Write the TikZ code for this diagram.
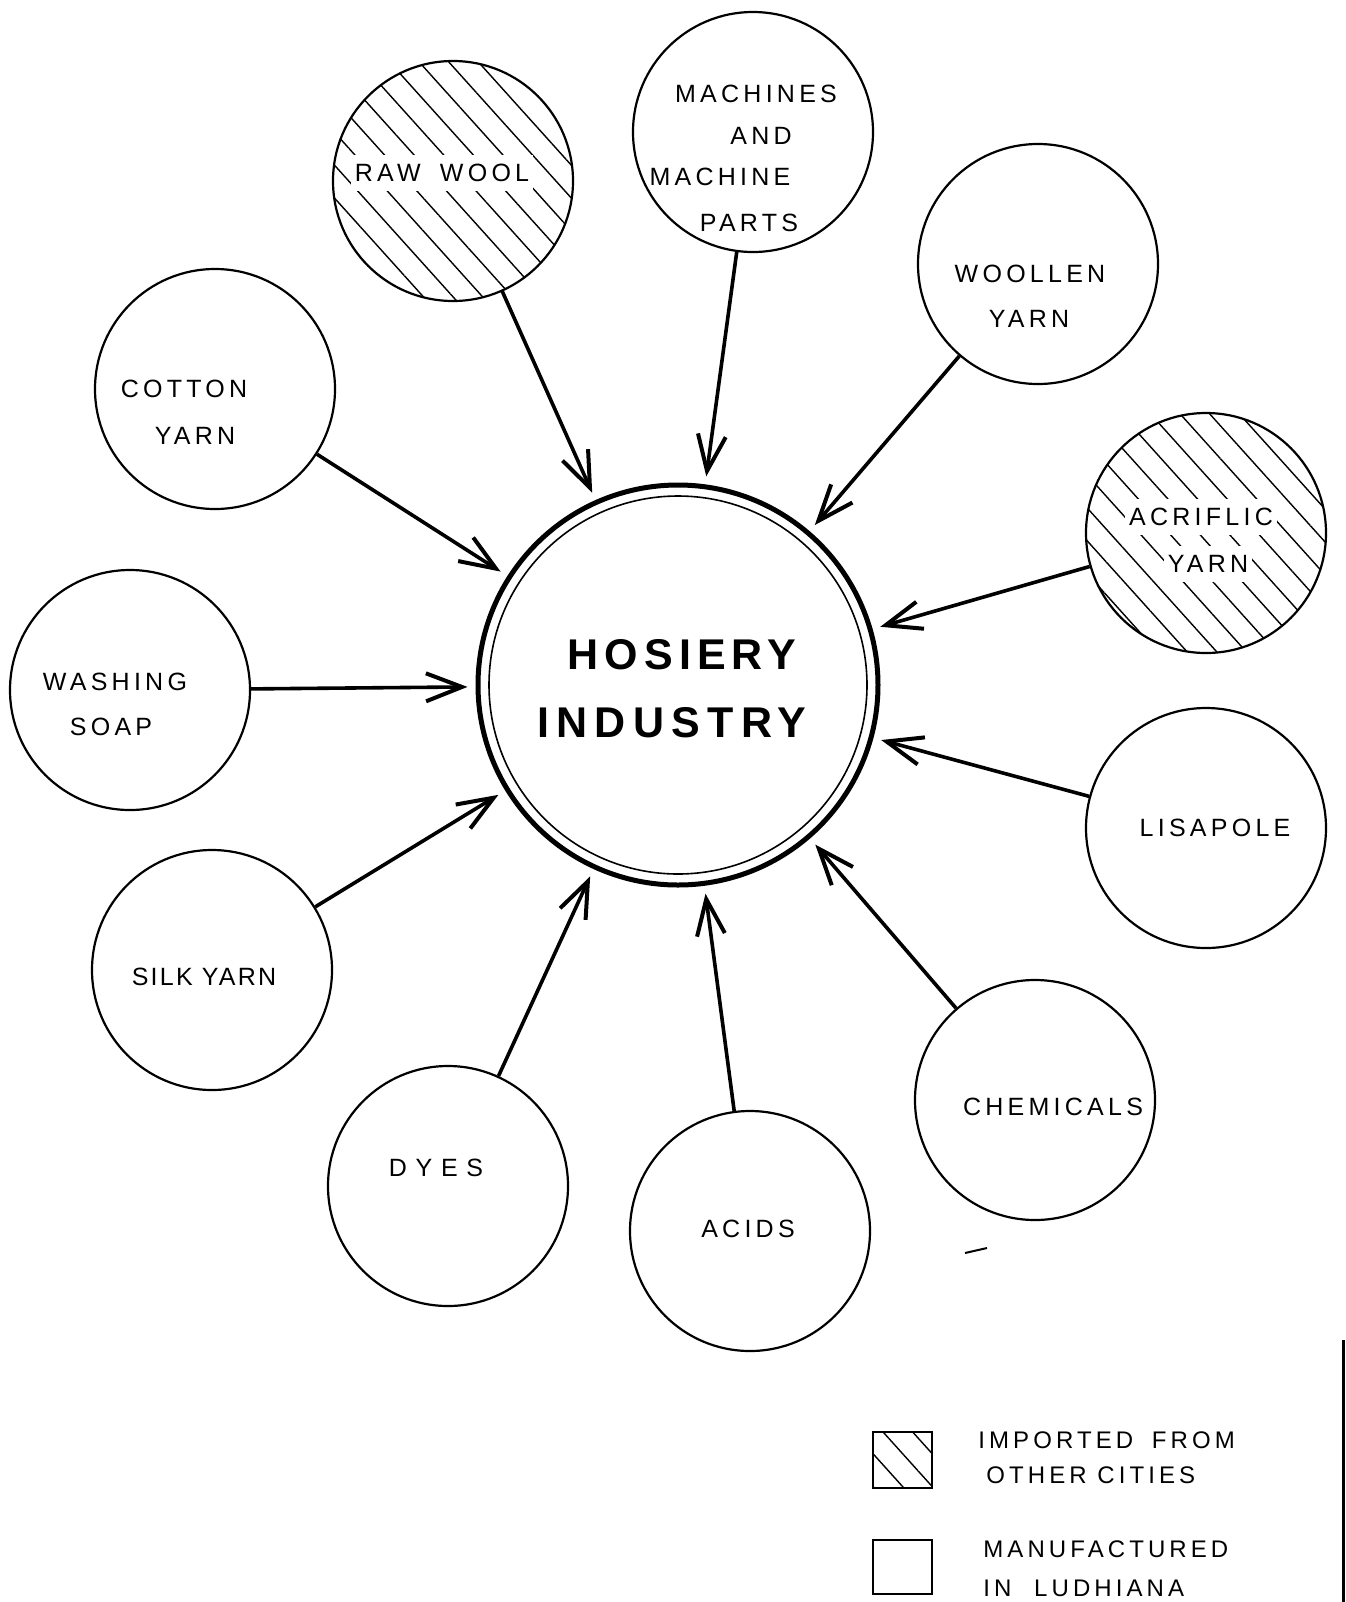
\documentclass[tikz,border=0pt]{standalone}
\usepackage{fontspec}
\setmainfont{Liberation Sans}
\newfontfamily\lblfont[LetterSpace=17]{Liberation Sans}
\newfontfamily\titlefont[LetterSpace=14]{Liberation Sans Bold}
\usetikzlibrary{arrows.meta,patterns.meta}
\begin{document}
\begin{tikzpicture}[x=0.5pt,y=-0.5pt,
  src/.style={circle,draw,line width=1.1pt,minimum size=120pt,inner sep=0pt},
  hatch/.style={pattern={Lines[angle=-48,distance=11pt,line width=0.7pt]}},
  imported/.style={src,hatch},
  lbl/.style={font=\lblfont\fontsize{12.5}{14}\selectfont,inner sep=0pt},
  gap/.style={lbl,fill=white,inner xsep=2pt,inner ysep=4.5pt},
  legtxt/.style={lbl,anchor=west,font=\lblfont\fontsize{12}{14}\selectfont},
  feed/.style={line width=1.8pt,-{Straight Barb[length=18pt,width=14pt,line width=2pt]},shorten >=4pt}
]
\useasboundingbox[fill=white] (0,0) rectangle (1345,1602);

% central hub: heavy outer ring with a thin inner ring
\node[circle,draw,line width=2.5pt,minimum size=200pt,inner sep=0pt] (hub) at (678,685) {};
\draw[line width=0.8pt] (hub.center) circle[radius=189];
\node[font=\titlefont\fontsize{21.5}{25}\selectfont,inner sep=0pt] (hubA) at (682,655) {HOSIERY};
\node[font=\titlefont\fontsize{21.5}{25}\selectfont\addfontfeature{LetterSpace=17},inner sep=0pt] (hubB) at (672,723) {INDUSTRY};

% input circles
\node[imported] (raw)  at (453,181)  {};
\node[src]      (mach) at (753,132)  {};
\node[src]      (wool) at (1038,264) {};
\node[imported] (acr)  at (1206,533) {};
\node[src]      (lis)  at (1206,828) {};
\node[src]      (chem) at (1035,1100) {};
\node[src]      (acid) at (750,1231) {};
\node[src]      (dyes) at (448,1186) {};
\node[src]      (silk) at (212,970)  {};
\node[src]      (soap) at (130,690)  {};
\node[src]      (cot)  at (215,389)  {};

% labels
\node[gap] (rawT) at (442,173) {RAW\hspace{4pt} WOOL};
\node[lbl] (machA) at (756,94)  {MACHINES};
\node[lbl] (machB) at (761,136) {AND};
\node[lbl] (machC) at (720,177) {MACHINE};
\node[lbl] (machD) at (749,223) {PARTS};
\node[lbl] (woolA) at (1030,274) {WOOLLEN};
\node[lbl] (woolB) at (1029,319) {YARN};
\node[gap] (acrA) at (1201,517) {ACRIFLIC};
\node[gap] (acrB) at (1208,564) {YARN};
\node[lbl] (lisT) at (1215,828) {LISAPOLE};
\node[lbl] (chemT) at (1053,1107) {CHEMICALS};
\node[lbl] (acidT) at (748,1229) {ACIDS};
\node[lbl,font=\lblfont\fontsize{12.5}{14}\selectfont\addfontfeature{LetterSpace=35}] (dyesT) at (436,1168) {DYES};
\node[lbl,font=\lblfont\fontsize{12.5}{14}\selectfont\addfontfeature{LetterSpace=9}] (silkT) at (204,977) {SILK YARN};
\node[lbl] (soapA) at (115,682) {WASHING};
\node[lbl] (soapB) at (111,727) {SOAP};
\node[lbl] (cotA) at (184,389) {COTTON};
\node[lbl] (cotB) at (195,436) {YARN};

% supply arrows into the hub
\foreach \s in {raw,mach,wool,acr,lis,chem,acid,dyes,silk,soap,cot}
  \draw[feed] (\s) -- (hub);

% legend
\node[draw,line width=0.9pt,hatch,minimum width=29.5pt,minimum height=28pt,inner sep=0pt] (keyI) at (902.5,1460) {};
\node[draw,line width=1pt,minimum width=29.5pt,minimum height=27pt,inner sep=0pt] (keyM) at (902.5,1567) {};
\node[legtxt] (keyIa) at (978,1440) {IMPORTED\hspace{4pt} FROM};
\node[legtxt] (keyIb) at (986,1475) {OTHER CITIES};
\node[legtxt] (keyMa) at (983,1549) {MANUFACTURED};
\node[legtxt] (keyMb) at (983,1588) {IN\hspace{6pt} LUDHIANA};

% stray marks on the sheet
\draw[line width=1pt] (965,1253) -- (987,1248);
\draw[line width=1.5pt] (1343,1340) -- (1343,1602);
\end{tikzpicture}
\end{document}
